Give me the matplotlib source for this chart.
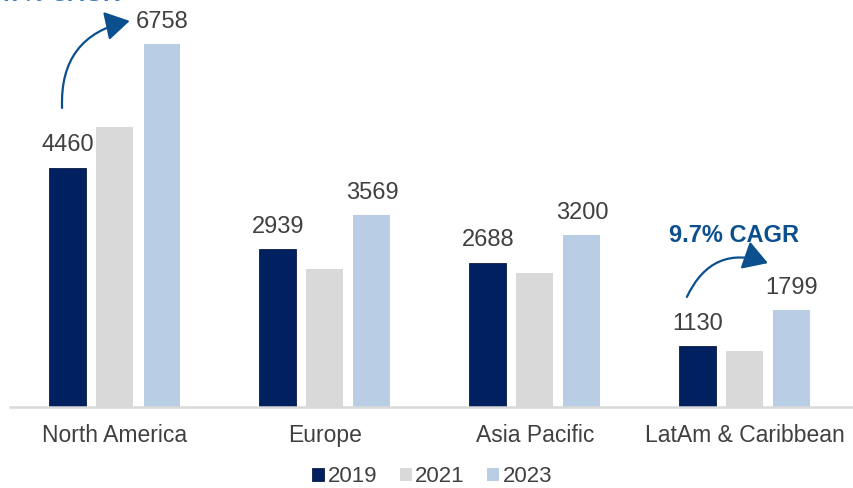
import matplotlib
matplotlib.use("Agg")
import matplotlib.pyplot as plt
from matplotlib.patches import FancyArrowPatch
import numpy as np

plt.rcParams['font.family'] = ['Liberation Sans', 'DejaVu Sans']

categories = ["North America", "Europe", "Asia Pacific", "LatAm & Caribbean"]
years = ["2019", "2021", "2023"]
v2019 = [4460, 2939, 2688, 1130]
v2021 = [5210, 2570, 2495, 1040]
v2023 = [6758, 3569, 3200, 1799]
colors = ["#002060", "#D9D9D9", "#B9CDE5"]

fig = plt.figure(figsize=(8.54, 4.88), dpi=100)
ax = fig.add_axes([10/854, 1 - 407/488, 844/854, 407/488])

x = np.arange(len(categories))
w = 0.176
off = 0.224
series = [v2019, v2021, v2023]
for i, (vals, c) in enumerate(zip(series, colors)):
    ax.bar(x + (i - 1) * off, vals, width=w, color=c, label=years[i], zorder=2,
           edgecolor=c if i else "#0d1a40", linewidth=0.6 if i == 0 else 0)

txtc = "#404040"
fs = 17
for xi, v in zip(x, v2019):
    ax.text(xi - off, v + 210, f"{v}", ha="center", va="bottom", fontsize=fs, color=txtc)
for xi, v in zip(x, v2023):
    ax.text(xi + off, v + 210, f"{v}", ha="center", va="bottom", fontsize=fs, color=txtc)

ax.set_xlim(-0.5, 3.52)
ax.set_ylim(0, 7580)
for s in ["top", "right", "left"]:
    ax.spines[s].set_visible(False)
ax.spines["bottom"].set_color("#D9D9D9")
ax.spines["bottom"].set_linewidth(1.8)
ax.set_yticks([])
ax.set_xticks(x)
ax.set_xticklabels(categories, fontsize=16.5, color=txtc)
ax.tick_params(axis="x", length=0, pad=12)

blue = "#0B4F8F"
# North America arrow
arr1 = FancyArrowPatch((-0.252, 5570), (0.07, 7190),
                       connectionstyle="arc3,rad=-0.42", arrowstyle="-|>,head_length=10,head_width=6",
                       color=blue, lw=1.6, mutation_scale=1.5, zorder=3, shrinkA=0, shrinkB=0)
ax.add_patch(arr1)
# LatAm arrow
arr2 = FancyArrowPatch((2.724, 2050), (3.11, 2680),
                       connectionstyle="arc3,rad=-0.45", arrowstyle="-|>,head_length=10,head_width=6",
                       color=blue, lw=1.6, mutation_scale=1.5, zorder=3, shrinkA=0, shrinkB=0)
ax.add_patch(arr2)
ax.text(2.948, 3200, "9.7% CAGR", ha="center", va="center", fontsize=fs,
        fontweight="bold", color=blue)
# partially clipped annotation at top-left (cut off in the reference too)
fig.text(55/854, 1 - 1.0/488, "8.7% CAGR", ha="center", va="baseline", fontsize=fs,
         fontweight="bold", color="#3F7FC0")

leg = fig.legend(loc="center", bbox_to_anchor=(0.506, 1 - 477/488), ncol=3, frameon=False,
                 fontsize=16, handlelength=0.55, handleheight=0.55, handletextpad=0.15,
                 columnspacing=1.0, labelcolor=txtc, borderpad=0.1)

fig.savefig("out.png", dpi=100)
